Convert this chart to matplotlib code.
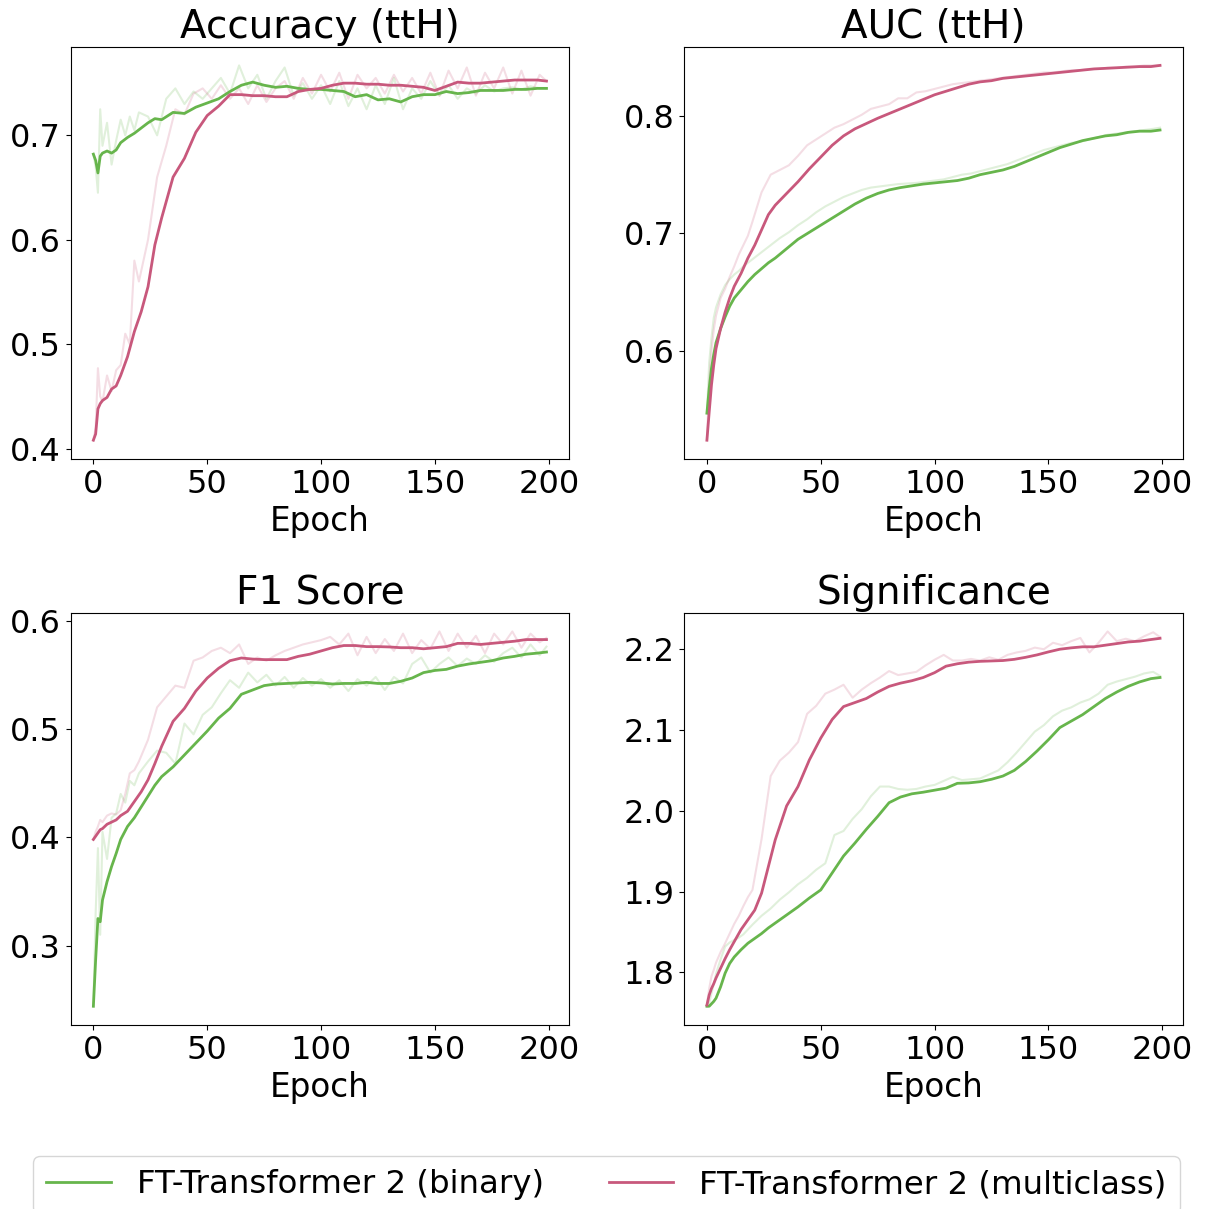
import matplotlib
matplotlib.use("Agg")
import matplotlib.pyplot as plt

plt.rcParams.update({
    "font.family": "DejaVu Sans",
    "font.size": 23.5,
})

SMOOTH_EPOCHS = [0, 1, 2, 3, 4, 6, 8, 10, 12, 15, 18, 21, 24, 27, 30,
                 35, 40, 45, 50, 55, 60, 65, 70, 75, 80, 85, 90, 95, 100,
                 105, 110, 115, 120, 125, 130, 135, 140, 145, 150, 155, 160,
                 165, 170, 175, 180, 185, 190, 195, 199]
RAW_EPOCHS = [0, 1, 2, 3, 4, 6, 8, 10, 12, 14, 16, 18, 20,
              24, 28, 32, 36, 40, 44, 48, 52, 56, 60, 64, 68, 72, 76, 80,
              84, 88, 92, 96, 100, 104, 108, 112, 116, 120, 124, 128, 132,
              136, 140, 144, 148, 152, 156, 160, 164, 168, 172, 176, 180,
              184, 188, 192, 196, 199]

# ---- Accuracy (ttH)
acc_bin_smooth = [0.682, 0.676, 0.664, 0.680, 0.683, 0.685, 0.683, 0.686, 0.693,
                  0.698, 0.702, 0.707, 0.712, 0.716, 0.715, 0.722, 0.721, 0.727,
                  0.731, 0.735, 0.742, 0.748, 0.751, 0.748, 0.746, 0.747, 0.745,
                  0.744, 0.744, 0.743, 0.742, 0.737, 0.739, 0.734, 0.735, 0.732,
                  0.737, 0.739, 0.739, 0.742, 0.740, 0.741, 0.743, 0.743, 0.743,
                  0.744, 0.744, 0.745, 0.745]
acc_multi_smooth = [0.408, 0.414, 0.438, 0.443, 0.446, 0.449, 0.457, 0.460, 0.470,
                    0.488, 0.512, 0.531, 0.555, 0.595, 0.621, 0.660, 0.678, 0.703,
                    0.719, 0.728, 0.739, 0.739, 0.738, 0.738, 0.737, 0.737, 0.742,
                    0.744, 0.745, 0.748, 0.750, 0.750, 0.749, 0.749, 0.748, 0.748,
                    0.747, 0.746, 0.743, 0.747, 0.751, 0.750, 0.750, 0.751, 0.752,
                    0.753, 0.753, 0.753, 0.752]
acc_bin_raw = [0.682, 0.670, 0.645, 0.725, 0.690, 0.712, 0.672, 0.695, 0.715, 0.700,
               0.718, 0.705, 0.722, 0.718, 0.700, 0.735, 0.745, 0.730, 0.742, 0.735,
               0.745, 0.755, 0.740, 0.767, 0.745, 0.758, 0.735, 0.752, 0.765, 0.738,
               0.750, 0.735, 0.748, 0.730, 0.752, 0.728, 0.745, 0.725, 0.748, 0.730,
               0.755, 0.725, 0.745, 0.735, 0.752, 0.738, 0.748, 0.735, 0.745, 0.740,
               0.748, 0.742, 0.745, 0.746, 0.744, 0.747, 0.745, 0.745]
acc_multi_raw = [0.408, 0.420, 0.477, 0.450, 0.445, 0.470, 0.455, 0.475, 0.480, 0.510,
                 0.500, 0.580, 0.560, 0.600, 0.660, 0.690, 0.725, 0.720, 0.740, 0.745,
                 0.735, 0.748, 0.735, 0.745, 0.730, 0.748, 0.732, 0.745, 0.752, 0.735,
                 0.755, 0.740, 0.758, 0.742, 0.760, 0.735, 0.758, 0.745, 0.755, 0.740,
                 0.758, 0.742, 0.755, 0.740, 0.760, 0.738, 0.762, 0.745, 0.765, 0.738,
                 0.760, 0.745, 0.765, 0.740, 0.762, 0.738, 0.758, 0.752]

# ---- AUC (ttH)
auc_bin_smooth = [0.547, 0.568, 0.585, 0.597, 0.607, 0.619, 0.629, 0.638, 0.645,
                  0.652, 0.659, 0.665, 0.670, 0.675, 0.679, 0.687, 0.695, 0.701,
                  0.707, 0.713, 0.719, 0.725, 0.730, 0.734, 0.737, 0.739, 0.7405,
                  0.742, 0.743, 0.744, 0.745, 0.747, 0.750, 0.752, 0.754, 0.757,
                  0.761, 0.765, 0.769, 0.773, 0.776, 0.779, 0.781, 0.783, 0.784,
                  0.786, 0.787, 0.787, 0.788]
auc_multi_smooth = [0.524, 0.548, 0.571, 0.588, 0.602, 0.619, 0.633, 0.645, 0.655,
                    0.666, 0.679, 0.690, 0.703, 0.716, 0.724, 0.734, 0.744, 0.755,
                    0.765, 0.775, 0.783, 0.789, 0.7935, 0.798, 0.802, 0.806, 0.810,
                    0.814, 0.818, 0.821, 0.824, 0.827, 0.829, 0.830, 0.832, 0.833,
                    0.834, 0.835, 0.836, 0.837, 0.838, 0.839, 0.840, 0.8405, 0.841,
                    0.8415, 0.842, 0.842, 0.843]
auc_bin_raw = [0.547, 0.590, 0.611, 0.628, 0.637, 0.648, 0.656, 0.661, 0.665, 0.668,
               0.672, 0.675, 0.678, 0.684, 0.690, 0.696, 0.701, 0.707, 0.712, 0.718,
               0.723, 0.727, 0.731, 0.734, 0.737, 0.739, 0.740, 0.741, 0.742, 0.7425,
               0.743, 0.744, 0.745, 0.746, 0.748, 0.750, 0.751, 0.753, 0.755, 0.757,
               0.759, 0.762, 0.765, 0.768, 0.771, 0.773, 0.775, 0.777, 0.778, 0.780,
               0.782, 0.784, 0.785, 0.786, 0.787, 0.788, 0.789, 0.790]
auc_multi_raw = [0.524, 0.575, 0.600, 0.618, 0.630, 0.645, 0.653, 0.663, 0.672, 0.682,
                 0.690, 0.698, 0.710, 0.735, 0.750, 0.754, 0.758, 0.766, 0.775, 0.780,
                 0.785, 0.790, 0.793, 0.797, 0.801, 0.806, 0.808, 0.810, 0.815, 0.815,
                 0.820, 0.821, 0.823, 0.825, 0.827, 0.828, 0.829, 0.830, 0.831, 0.832,
                 0.833, 0.834, 0.835, 0.836, 0.837, 0.837, 0.838, 0.839, 0.839, 0.840,
                 0.840, 0.841, 0.841, 0.842, 0.842, 0.843, 0.843, 0.843]

# ---- F1 Score
f1_bin_smooth = [0.244, 0.287, 0.325, 0.322, 0.342, 0.359, 0.373, 0.385, 0.398,
                 0.410, 0.418, 0.428, 0.438, 0.448, 0.456, 0.465, 0.476, 0.487,
                 0.498, 0.510, 0.519, 0.532, 0.536, 0.540, 0.5415, 0.542, 0.5425,
                 0.543, 0.5425, 0.5415, 0.542, 0.542, 0.543, 0.542, 0.542, 0.544,
                 0.547, 0.552, 0.554, 0.555, 0.558, 0.560, 0.5615, 0.563, 0.5655,
                 0.567, 0.569, 0.570, 0.571]
f1_multi_smooth = [0.398, 0.401, 0.404, 0.407, 0.408, 0.412, 0.414, 0.416, 0.420,
                   0.424, 0.433, 0.442, 0.453, 0.468, 0.484, 0.507, 0.519, 0.535,
                   0.547, 0.556, 0.563, 0.5655, 0.5645, 0.564, 0.564, 0.564, 0.567,
                   0.569, 0.572, 0.575, 0.577, 0.577, 0.576, 0.576, 0.5757, 0.575,
                   0.575, 0.574, 0.575, 0.576, 0.579, 0.579, 0.578, 0.579, 0.580,
                   0.581, 0.5825, 0.5825, 0.5825]
f1_bin_raw = [0.244, 0.330, 0.390, 0.310, 0.405, 0.380, 0.418, 0.422, 0.440, 0.432,
              0.452, 0.448, 0.459, 0.470, 0.480, 0.478, 0.468, 0.505, 0.495, 0.513,
              0.520, 0.533, 0.545, 0.538, 0.552, 0.543, 0.550, 0.540, 0.548, 0.538,
              0.547, 0.540, 0.546, 0.538, 0.545, 0.535, 0.546, 0.540, 0.548, 0.536,
              0.548, 0.542, 0.560, 0.566, 0.552, 0.560, 0.566, 0.558, 0.565, 0.560,
              0.568, 0.562, 0.570, 0.575, 0.566, 0.578, 0.568, 0.576]
f1_multi_raw = [0.398, 0.405, 0.410, 0.416, 0.414, 0.420, 0.422, 0.421, 0.425, 0.440,
                0.459, 0.462, 0.470, 0.490, 0.520, 0.530, 0.540, 0.538, 0.563, 0.566,
                0.572, 0.575, 0.570, 0.578, 0.560, 0.566, 0.563, 0.568, 0.572, 0.575,
                0.578, 0.580, 0.582, 0.585, 0.578, 0.588, 0.568, 0.585, 0.570, 0.583,
                0.572, 0.588, 0.570, 0.582, 0.574, 0.590, 0.572, 0.588, 0.575, 0.586,
                0.570, 0.588, 0.578, 0.590, 0.575, 0.588, 0.580, 0.584]

# ---- Significance
sig_bin_smooth = [1.758, 1.758, 1.761, 1.764, 1.768, 1.782, 1.799, 1.811, 1.819,
                  1.828, 1.836, 1.842, 1.848, 1.855, 1.861, 1.871, 1.881, 1.892,
                  1.902, 1.923, 1.944, 1.960, 1.977, 1.993, 2.010, 2.017, 2.021,
                  2.023, 2.0255, 2.028, 2.034, 2.0345, 2.036, 2.039, 2.043, 2.050,
                  2.061, 2.074, 2.088, 2.103, 2.111, 2.119, 2.129, 2.139, 2.147,
                  2.154, 2.1595, 2.1636, 2.165]
sig_multi_smooth = [1.7595, 1.772, 1.780, 1.786, 1.793, 1.805, 1.817, 1.828, 1.838,
                    1.853, 1.865, 1.877, 1.898, 1.931, 1.964, 2.006, 2.030, 2.063,
                    2.090, 2.113, 2.129, 2.134, 2.139, 2.147, 2.154, 2.158, 2.161,
                    2.165, 2.171, 2.179, 2.182, 2.184, 2.185, 2.1855, 2.186, 2.1875,
                    2.190, 2.193, 2.1967, 2.200, 2.2017, 2.203, 2.203, 2.205, 2.207,
                    2.209, 2.210, 2.212, 2.2135]
sig_bin_raw = [1.758, 1.762, 1.774, 1.785, 1.798, 1.816, 1.832, 1.837, 1.840, 1.843,
               1.847, 1.853, 1.859, 1.870, 1.879, 1.890, 1.899, 1.909, 1.917, 1.927,
               1.935, 1.970, 1.975, 1.990, 2.002, 2.018, 2.030, 2.030, 2.027, 2.026,
               2.027, 2.030, 2.032, 2.037, 2.042, 2.038, 2.039, 2.040, 2.045, 2.050,
               2.060, 2.072, 2.085, 2.098, 2.106, 2.117, 2.124, 2.128, 2.134, 2.138,
               2.145, 2.156, 2.160, 2.163, 2.166, 2.170, 2.172, 2.167]
sig_multi_raw = [1.760, 1.780, 1.795, 1.803, 1.812, 1.825, 1.836, 1.848, 1.860, 1.870,
                 1.882, 1.893, 1.902, 1.965, 2.043, 2.062, 2.072, 2.085, 2.120, 2.130,
                 2.145, 2.150, 2.156, 2.140, 2.150, 2.158, 2.165, 2.173, 2.168, 2.170,
                 2.172, 2.180, 2.187, 2.193, 2.186, 2.186, 2.188, 2.186, 2.190, 2.187,
                 2.193, 2.196, 2.198, 2.202, 2.200, 2.208, 2.205, 2.210, 2.214, 2.196,
                 2.208, 2.222, 2.210, 2.213, 2.210, 2.216, 2.221, 2.215]

TITLES = ["Accuracy (ttH)", "AUC (ttH)", "F1 Score", "Significance"]
LABEL_BIN = "FT-Transformer 2 (binary)"
LABEL_MULTI = "FT-Transformer 2 (multiclass)"

C_BIN = "#67b54c"
C_MULTI = "#c8587c"

panels = [
    (acc_bin_raw, acc_bin_smooth, acc_multi_raw, acc_multi_smooth),
    (auc_bin_raw, auc_bin_smooth, auc_multi_raw, auc_multi_smooth),
    (f1_bin_raw, f1_bin_smooth, f1_multi_raw, f1_multi_smooth),
    (sig_bin_raw, sig_bin_smooth, sig_multi_raw, sig_multi_smooth),
]

fig, axes = plt.subplots(2, 2, figsize=(12.13, 12.09), dpi=100)
fig.subplots_adjust(left=0.0583, right=0.975, top=0.9614, bottom=0.1522,
                    wspace=0.231, hspace=0.373)

for ax, title, (b_raw, b_s, m_raw, m_s) in zip(axes.flat, TITLES, panels):
    ax.plot(RAW_EPOCHS, b_raw, color=C_BIN, alpha=0.2, lw=1.5)
    ax.plot(RAW_EPOCHS, m_raw, color=C_MULTI, alpha=0.2, lw=1.5)
    ax.plot(SMOOTH_EPOCHS, b_s, color=C_BIN, lw=2, label=LABEL_BIN)
    ax.plot(SMOOTH_EPOCHS, m_s, color=C_MULTI, lw=2, label=LABEL_MULTI)
    ax.set_title(title, fontsize=28)
    ax.set_xlabel("Epoch", labelpad=4, fontsize=23.5)
    ax.set_xticks([0, 50, 100, 150, 200])
    ax.tick_params(labelsize=23)

handles, labels = axes[0, 0].get_legend_handles_labels()
fig.legend(handles, labels, loc="upper center", ncol=2,
           bbox_to_anchor=(0.5, 0.057), fontsize=23.3)

fig.savefig("out.png", dpi=100)
